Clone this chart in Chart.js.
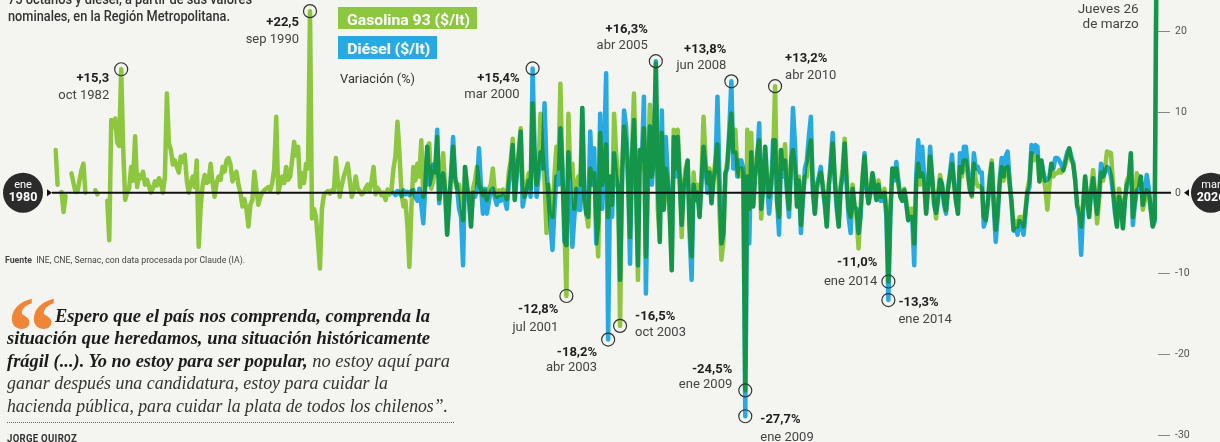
<!DOCTYPE html>
<html lang="es">
<head>
<meta charset="utf-8">
<title>Variación mensual del precio de la gasolina 93 y el diésel</title>
<script src="https://cdn.jsdelivr.net/npm/chart.js@4.4.1/dist/chart.umd.min.js"></script>
<style>
  html, body { margin: 0; padding: 0; background: #f4f4f0; }
  #lienzo { position: relative; width: 1220px; height: 442px; overflow: hidden; background: #f4f4f0; }
  #chart { position: absolute; left: 0; top: 0; }
  .t { position: absolute; white-space: nowrap; line-height: 1; transform-origin: 0 0; }
  .intro { font: 500 14px Roboto, sans-serif; color: #333; }
  .caja { position: absolute; }
  .leyenda { font: bold 15px Roboto, sans-serif; color: #fff; }
  .var { font: 13px Roboto, sans-serif; color: #333; }
  .fuente { font: 9.5px Roboto, sans-serif; color: #444; }
  .comilla { font: bold 100px "Liberation Serif", serif; color: #f08437; }
  .cita { font: italic 18px "Liberation Serif", serif; color: #333; }
  .cita b { color: #1c1c1c; }
  .regla { position: absolute; border-top: 1px dotted #666; height: 0; }
  .firma { font: bold 10px Roboto, sans-serif; color: #333; letter-spacing: 0.3px; }
</style>
</head>
<body>
<div id="lienzo">
  <canvas id="chart" width="1220" height="442"></canvas>

  <div class="t intro" data-w="244" style="left:8px;top:-9.5px">75 octanos y diésel, a partir de sus valores</div>
  <div class="t intro" data-w="222" style="left:8px;top:8px">nominales, en la Región Metropolitana.</div>

  <div class="caja" style="left:338px;top:7px;width:139px;height:22px;background:#8dc63f"></div>
  <div class="t leyenda" data-w="123" style="left:347px;top:10.5px">Gasolina 93 ($/lt)</div>
  <div class="caja" style="left:338px;top:36px;width:99px;height:23px;background:#27aae1"></div>
  <div class="t leyenda" data-w="83" style="left:347px;top:40px">Diésel ($/lt)</div>
  <div class="t var" data-w="75" style="left:340px;top:70.5px">Variación (%)</div>

  <div class="t fuente" data-w="240" style="left:5px;top:254px"><b>Fuente</b>&nbsp; INE, CNE, Sernac, con data procesada por Claude (IA).</div>

  <div class="t comilla" style="left:7px;top:274px">“</div>
  <div class="t cita" data-w="375" style="left:55px;top:305.6px"><b>Espero que el país nos comprenda, comprenda la</b></div>
  <div class="t cita" data-w="423" style="left:7px;top:328px"><b>situación que heredamos, una situación históricamente</b></div>
  <div class="t cita" data-w="443" style="left:7px;top:350.5px"><b>frágil (...). Yo no estoy para ser popular,</b> no estoy aquí para</div>
  <div class="t cita" data-w="381" style="left:7px;top:373px">ganar después una candidatura, estoy para cuidar la</div>
  <div class="t cita" data-w="441" style="left:7px;top:396px">hacienda pública, para cuidar la plata de todos los chilenos”.</div>
  <div class="regla" style="left:7px;top:422px;width:447px"></div>
  <div class="t firma" data-w="70" style="left:7px;top:433px">JORGE QUIROZ</div>
</div>

<script>
const ctx = document.getElementById('chart').getContext('2d');

const meses = ['ene', 'feb', 'mar', 'abr', 'may', 'jun', 'jul', 'ago', 'sep', 'oct', 'nov', 'dic'];

// Variación mensual (%) gasolina 93, ene 1980 - mar 2026
const gasolina93 = [
  5.3, 1.0, null, 0.1, -2.4, -0.4, null, null, 2.4, 1.2, 0.1, 0.1,        // 1980
  1.5, 2.8, 3.6, 0.0, null, null, null, null, 0.3, -0.2, null, null,     // 1981
  null, null, -1.0, -5.9, 9.0, 8.2, 9.2, 6.2, 5.8, 15.3, 5.5, -0.9,      // 1982
  0.1, 0.5, 3.2, 1.5, 7.0, 0.7, 2.2, 1.8, 2.6, 1.0, 1.6, 0.8,            // 1983
  0.0, 0.6, 1.4, 0.9, 1.8, 1.2, 0.0, 2.0, 12.3, 6.1, 5.3, 3.5,           // 1984
  4.0, 3.2, 2.5, 4.5, 3.8, 4.7, 1.5, 0.0, 1.2, 2.0, 0.7, 4.0,            // 1985
  -6.7, -1.7, 1.0, 2.2, 1.2, 1.4, 3.6, 1.2, -0.5, 1.2, 2.0, 1.6,         // 1986
  3.2, 2.6, 4.0, 4.3, 3.5, 1.4, 2.2, 2.6, 1.0, 0.0, -1.7, -0.8,          // 1987
  -2.0, -4.2, -1.5, -0.9, 2.6, 0.5, -1.5, -0.5, 0.0, 0.3, 0.5, 0.7,      // 1988
  0.3, 1.2, 3.0, 9.4, 0.0, 1.0, 2.0, 1.2, 3.2, 1.6, 2.0, 4.0,            // 1989
  6.3, 4.6, 5.7, 0.7, 2.4, 1.2, 3.6, 3.0, 22.5, -3.2, -2.0, -3.0,        // 1990
  -6.0, -9.4, -2.0, -0.3, 0.0, 0.2, -0.1, 0.3, 0.1, 4.3, 1.4, -0.5,      // 1991
  1.0, 2.0, 2.8, 3.6, 1.5, -0.5, 0.3, 2.0, 0.5, 0.2, -0.2, 0.0,          // 1992
  0.6, 1.0, 0.2, 1.5, 3.2, -0.2, 0.6, 0.2, -0.3, 0.0, -0.9, 0.4,         // 1993
  -0.2, 0.4, 3.0, 4.5, 8.8, 4.9, 0.0, -1.7, -1.0, -4.0, -9.2, -2.0,      // 1994
  3.2, 1.5, 3.6, 2.0, 6.5, -0.5, 1.0, 5.7, 6.1, 0.5, 1.5, 3.0,           // 1995
  6.9, -0.8, 1.5, 4.9, 0.5, -5.2, -1.0, 2.0, 5.7, 1.5, 0.5, 1.0,         // 1996
  -1.0, -3.4, 3.2, 1.0, -0.5, -4.2, 0.5, 1.5, 3.2, 1.0, 0.5, -0.3,       // 1997
  0.2, -0.9, 0.5, 1.0, 3.0, 0.0, -0.5, 0.3, -0.3, 0.4, 0.0, -0.8,        // 1998
  2.5, 4.0, 6.7, -0.9, 3.0, 5.0, 8.0, 1.0, -0.5, 1.0, 2.4, 0.5,          // 1999
  11.1, 4.0, 1.0, 3.5, 9.8, 5.0, 1.5, -5.0, 1.0, -1.5, -3.0, 2.0,        // 2000
  5.7, 3.0, 13.5, 2.0, -4.0, -12.8, 9.8, 2.0, 3.6, -2.0, 1.0, 2.0,       // 2001
  1.0, 10.5, -1.0, -2.6, -4.2, 3.0, 2.0, 2.4, -3.0, -7.9, 7.4, 1.0,      // 2002
  3.0, 6.0, -3.0, 2.0, -1.5, 9.8, 4.9, 2.0, -16.5, 3.0, 8.2, 6.0,        // 2003
  1.0, -5.5, 5.0, 12.3, 2.0, -10.8, 5.3, 3.0, 8.0, -7.9, 3.0, 10.9,      // 2004
  2.0, 4.0, 16.0, -2.0, -6.1, 7.4, -2.1, 3.0, 1.0, -3.0, -9.6, 7.8,      // 2005
  3.0, 7.8, 2.0, -5.5, 1.0, 3.0, 4.0, -4.0, -7.9, 2.5, -0.9, 1.0,        // 2006
  -3.0, 2.0, 9.4, 4.0, 1.2, 3.0, -1.3, 2.0, 4.0, 6.0, -2.0, -8.3,        // 2007
  -6.0, 2.4, 4.0, 7.0, 9.8, 5.0, 7.8, 3.0, 2.0, 3.0, 2.0, -24.5,         // 2008
  7.8, -2.0, 7.4, -1.7, 3.0, 5.0, 6.5, -3.2, 1.0, 5.7, 2.0, -0.5,        // 2009
  1.0, 4.0, 13.2, -1.0, -3.0, 5.3, 3.0, 6.0, 0.5, -2.0, 4.0, 5.3,        // 2010
  3.0, -1.7, 2.0, -4.0, 0.0, 2.0, 2.0, 5.0, 6.5, 1.0, -2.6, 0.5,         // 2011
  1.5, 2.5, 1.0, -1.0, -4.2, 1.0, 3.0, 6.1, 2.0, -1.0, -4.2, 1.0,        // 2012
  3.0, 6.7, 2.0, -2.0, -3.0, 1.0, -1.7, -3.0, -6.9, -2.0, 2.0, 4.5,      // 2013
  1.0, -1.3, 0.5, 2.4, 1.0, -0.9, 1.5, -0.5, -0.5, 0.5, -2.0, -11.0,     // 2014
  -2.0, 3.0, 2.0, 3.0, 1.0, -0.5, -1.0, 0.5, -1.0, -3.4, -2.0, -2.0,     // 2015
  -6.3, 1.0, 3.6, 1.0, 2.4, 1.0, -2.6, 0.5, 4.5, 2.0, -1.0, -3.2,        // 2016
  0.0, 2.2, 1.0, -1.0, -2.2, 0.5, 2.0, 3.6, 1.0, -1.0, -2.6, 3.2,        // 2017
  2.0, 4.0, 4.0, 2.0, 0.3, -0.5, 3.6, 1.5, 0.8, 0.8, 0.5, -3.0,          // 2018
  -3.4, -1.0, 2.0, 4.0, -1.0, -4.6, -2.0, 1.0, 3.2, 1.5, 3.0, 3.2,       // 2019
  1.0, -1.0, -4.6, -3.5, -4.2, -3.0, -3.0, -4.2, -2.0, 0.5, 1.6, 4.9,    // 2020
  4.0, 4.5, 4.5, 1.4, 4.0, 2.0, 0.5, -2.1, 1.0, 3.6, 2.0, 2.4,           // 2021
  2.4, 2.8, 2.5, 2.8, 3.5, 4.5, 5.5, 4.0, 3.6, 1.5, -1.7, -2.0,          // 2022
  -4.2, -1.0, 2.0, -0.5, -3.0, 0.5, 2.8, 0.0, -3.8, -1.0, 2.5, 1.5,      // 2023
  3.0, 5.1, 5.0, 4.9, 1.0, -2.0, -4.2, 0.5, -1.0, -4.4, -1.0, 1.5,       // 2024
  2.0, 4.9, -3.0, -1.0, 2.4, 1.0, 2.0, -2.1, -1.0, 0.3, 0.0, -2.0,       // 2025
  -4.2, -3.0, 32.0                                                        // 2026
];

// Variación mensual (%) diésel, desde ene 1994 (antes sin datos)
const dieselSinDatos = 168;
const dieselDesde1994 = [
  null, null, 0.0, -0.3, 0.2, 0.0, -0.4, 0.3, -0.2, 0.1, -0.3, 0.2,      // 1994
  0.3, -0.5, -1.0, 0.5, -1.5, -3.8, 0.8, 5.7, 1.0, 2.0, 3.5, 2.5,        // 1995
  7.8, -1.3, 1.0, 2.4, 0.0, -5.2, -1.5, 2.5, 6.9, 2.0, 0.7, -2.0,        // 1996
  -3.0, -9.0, 3.2, 0.5, -1.0, -4.2, 0.0, -0.5, 0.3, 5.5, 1.0, -2.6,      // 1997
  0.5, -2.6, -1.0, 0.2, 0.5, -0.6, -1.5, -0.5, -1.0, -0.3, -0.8, -2.0,   // 1998
  1.0, 3.0, 5.9, -0.9, 2.0, 4.5, 7.6, -1.7, -0.5, 0.3, 1.5, -0.5,        // 1999
  15.4, 5.3, -0.5, 2.0, 5.0, 3.0, 11.1, 3.0, -0.5, -4.0, -7.1, -2.0,     // 2000
  2.0, 1.0, 8.0, 3.0, -6.0, -6.5, 5.0, 0.5, -6.7, -3.0, 0.5, -2.1,       // 2001
  -2.1, 10.5, 0.5, -2.6, -3.0, 7.6, 1.0, 5.5, -6.3, -3.8, 9.8, -2.0,     // 2002
  5.0, 14.8, -18.2, 2.0, -3.0, 4.9, 2.0, 0.5, -10.8, 1.0, 10.2, 8.2,     // 2003
  3.0, -8.8, 4.0, 9.0, 1.0, -9.0, 5.3, 4.0, 11.9, -12.5, 2.0, 8.2,       // 2004
  1.0, 5.0, 16.3, 1.0, -6.1, 10.2, -2.1, 6.9, 2.0, -2.0, -9.6, 6.9,      // 2005
  2.0, 6.9, 1.5, -4.0, 0.5, 2.0, 4.0, -5.0, -10.8, 1.0, -0.9, 0.0,       // 2006
  -3.0, 1.5, 5.7, 3.0, 0.0, 2.5, -1.3, 1.5, 3.0, 11.9, 2.0, -6.3,        // 2007
  -5.0, 2.4, 3.0, 8.0, 13.8, 3.0, 5.0, 2.0, 4.0, 4.0, 3.0, -27.7,        // 2008
  2.0, -6.3, 5.0, -1.7, 2.0, 4.0, 8.6, -2.0, 0.5, 5.7, 1.0, -2.6,        // 2009
  0.5, 6.5, 6.5, -1.0, -5.2, 5.3, 2.0, 4.0, 0.0, -3.0, 3.0, 10.5,        // 2010
  6.0, -1.7, 1.5, -5.0, -1.0, 3.0, 4.0, 7.0, 9.4, 0.0, -2.6, 1.0,        // 2011
  2.0, 3.2, 0.5, -1.5, -4.2, 0.5, 4.0, 7.4, 1.5, -2.0, -4.2, 0.5,        // 2012
  2.0, 6.1, 1.0, -3.0, -5.0, 0.5, -1.7, -2.0, -5.0, -3.0, 1.5, 4.9,      // 2013
  0.5, -1.3, 0.0, 2.4, 0.5, -0.9, 1.0, -1.0, -1.0, 0.0, -3.0, -13.3,     // 2014
  -3.0, 3.0, 1.5, 3.8, 1.5, -0.5, -1.0, 0.3, -1.5, -3.4, -3.0, -3.0,     // 2015
  -9.0, 2.0, 6.5, 2.0, 5.7, 2.0, -2.6, 1.0, 5.7, 2.0, -1.5, -2.5,        // 2016
  -1.0, 1.6, 1.0, -1.5, -2.6, 0.5, 2.5, 4.7, 1.5, -1.0, -2.6, 4.9,       // 2017
  2.5, 5.7, 5.7, 3.0, 0.5, -0.3, 4.9, 3.0, 3.2, 2.5, 2.5, -4.2,          // 2018
  -3.4, -1.5, 1.5, 3.6, -1.5, -6.1, -3.0, 1.5, 4.3, 2.0, 4.5, 5.1,       // 2019
  1.5, -1.5, -4.7, -4.5, -5.2, -3.5, -4.0, -5.2, -2.5, 0.0, 0.7, 5.9,    // 2020
  5.0, 5.9, 5.7, 1.4, 4.0, 2.5, 1.5, 1.6, 2.0, 3.6, 3.0, 4.3,            // 2021
  4.3, 4.0, 3.5, 2.8, 4.0, 5.0, 5.5, 4.5, 3.6, 1.5, -1.7, -3.0,          // 2022
  -7.7, -2.0, 2.0, -1.0, -3.0, 0.0, 1.8, -0.5, -2.6, 0.0, 3.6, 2.0,      // 2023
  2.5, 3.2, 3.0, 2.0, 0.0, -2.5, -4.2, -0.5, -1.5, -4.4, -1.0, 1.0,      // 2024
  1.5, 4.9, -4.0, -1.5, 0.3, 0.5, 2.0, -1.5, 0.0, 2.2, 0.5, -2.0,        // 2025
  -4.2, -3.5, 34.0                                                        // 2026
];
const diesel = new Array(dieselSinDatos).fill(null).concat(dieselDesde1994);

const yTicks = [20, 10, 0, -10, -20, -30];

// Puntos destacados: serie (0 gasolina, 1 diésel), mes en el arreglo, textos
const notaSerie = [0, 0, 1, 1, 1, 0, 0, 1, 0, 0, 1, 0, 1];
const notaIdx = [33, 128, 240, 302, 340, 362, 257, 278, 284, 347, 347, 419, 419];
const notaValor = ['+15,3', '+22,5', '+15,4%', '+16,3%', '+13,8%', '+13,2%', '-12,8%',
  '-18,2%', '-16,5%', '-24,5%', '-27,7%', '-11,0%', '-13,3%'];
const notaFecha = ['oct 1982', 'sep 1990', 'mar 2000', 'abr 2005', 'jun 2008', 'abr 2010', 'jul 2001',
  'abr 2003', 'oct 2003', 'ene 2009', 'ene 2009', 'ene 2014', 'ene 2014'];

// donde va cada texto respecto del circulo
const notaPos = [
  ['right', -12, 10, 27], ['right', -11, 12, 29], ['right', -13, 10, 26], ['right', -8, -31, -15],
  ['right', -5, -32, -16], ['left', 10, -27, -10], ['right', -8, 14, 32], ['right', -11, 13, 28],
  ['left', 15, -9, 7], ['right', -13, -21, -6], ['left', 15, 3, 21], ['right', -11, -19, 0],
  ['left', 10, 3, 20]
];

const etiquetas = gasolina93.map((v, i) => meses[i % 12] + ' ' + (1980 + Math.floor(i / 12)));

// la zona donde se cruzan las dos lineas se pinta verde oscuro
const mezcla = {
  id: 'mezcla',
  beforeDatasetDraw(chart, args) {
    chart.ctx.globalCompositeOperation = chart.data.datasets[args.index].mezcla || 'source-over';
  },
  afterDatasetDraw(chart) {
    chart.ctx.globalCompositeOperation = 'source-over';
  }
};

function badge(c, cx, cy, arriba, abajo) {
  c.fillStyle = '#2b2b2b';
  c.beginPath();
  c.arc(cx, cy, 20, 0, Math.PI * 2);
  c.fill();
  c.fillStyle = '#fff';
  c.textAlign = 'center';
  c.textBaseline = 'middle';
  c.font = '11px Roboto';
  c.fillText(arriba, cx, cy - 7);
  c.font = 'bold 12.5px Roboto';
  c.fillText(abajo, cx, cy + 5);
}

const decor = {
  id: 'decor',
  afterDatasetsDraw(chart) {
    const c = chart.ctx;
    const ys = chart.scales.y;
    const y0 = ys.getPixelForValue(0);
    c.save();
    c.globalCompositeOperation = 'source-over';

    // eje del cero
    c.strokeStyle = '#111';
    c.lineWidth = 2;
    c.beginPath();
    c.moveTo(52, y0);
    c.lineTo(1171, y0);
    c.stroke();
    c.fillStyle = '#111';
    c.beginPath();
    c.moveTo(47, y0 - 3.5); c.lineTo(52, y0); c.lineTo(47, y0 + 3.5);
    c.fill();
    c.beginPath();
    c.moveTo(1189, y0 - 3.5); c.lineTo(1184, y0); c.lineTo(1189, y0 + 3.5);
    c.fill();
    badge(c, 23, y0, 'ene', '1980');
    badge(c, 1211, y0, 'mar', '2026');

    // ticks del eje y
    c.font = '10.5px Roboto';
    c.textAlign = 'left';
    c.textBaseline = 'middle';
    yTicks.forEach(v => {
      const y = Math.round(ys.getPixelForValue(v)) + 0.5;
      if (v !== 0) {
        c.strokeStyle = '#888';
        c.lineWidth = 1;
        c.beginPath();
        c.moveTo(1158, y);
        c.lineTo(1170, y);
        c.stroke();
      }
      c.fillStyle = '#555';
      c.fillText(String(v), 1175, y);
    });

    // circulos y textos de los maximos y minimos
    notaIdx.forEach((idx, k) => {
      const p = chart.getDatasetMeta(notaSerie[k] === 0 ? 0 : 1).data[idx];
      const pos = notaPos[k];
      c.strokeStyle = '#333';
      c.lineWidth = 1.2;
      c.beginPath();
      c.arc(p.x, p.y, 6.5, 0, Math.PI * 2);
      c.stroke();
      c.textAlign = pos[0];
      c.fillStyle = '#1e1e1e';
      c.font = 'bold 13px Roboto';
      c.fillText(notaValor[k], p.x + pos[1], p.y + pos[2]);
      c.fillStyle = '#444';
      c.font = '13px Roboto';
      c.fillText(notaFecha[k], p.x + pos[1], p.y + pos[3]);
    });

    // ultimo dato
    const ult = chart.getDatasetMeta(0).data[gasolina93.length - 1];
    c.textAlign = 'right';
    c.fillStyle = '#444';
    c.font = '13.5px Roboto';
    c.fillText('Jueves 26', ult.x - 18, 10);
    c.fillText('de marzo', ult.x - 18, 25);
    c.restore();
  }
};

const comun = { pointRadius: 0, borderWidth: 4.5, tension: 0, borderJoinStyle: 'round', borderCapStyle: 'round', spanGaps: false, fill: false };

new Chart(ctx, {
  type: 'line',
  data: {
    labels: etiquetas,
    datasets: [
      Object.assign({ label: 'Gasolina 93 ($/lt)', data: gasolina93, borderColor: '#8dc63f', order: 3 }, comun),
      Object.assign({ label: 'Diésel ($/lt)', data: diesel, borderColor: '#15954a', order: 2, mezcla: 'source-atop' }, comun),
      Object.assign({ label: 'Diésel ($/lt)', data: diesel, borderColor: '#27aae1', order: 1, mezcla: 'destination-over' }, comun)
    ]
  },
  options: {
    responsive: false,
    animation: false,
    events: [],
    layout: { padding: { left: 55.6, right: 63.3, top: 0, bottom: 0 } },
    plugins: { legend: { display: false }, tooltip: { enabled: false } },
    scales: {
      x: { display: false },
      y: { display: false, min: -30.89, max: 23.88 }
    }
  },
  plugins: [mezcla, decor]
});

// ajusta el ancho de los textos al original
function ajustar() {
  document.querySelectorAll('[data-w]').forEach(el => {
    el.style.transform = 'none';
    const real = el.getBoundingClientRect().width;
    el.style.transform = 'scaleX(' + (parseFloat(el.dataset.w) / real) + ')';
  });
}
ajustar();
if (document.fonts) document.fonts.ready.then(ajustar);
</script>
</body>
</html>
